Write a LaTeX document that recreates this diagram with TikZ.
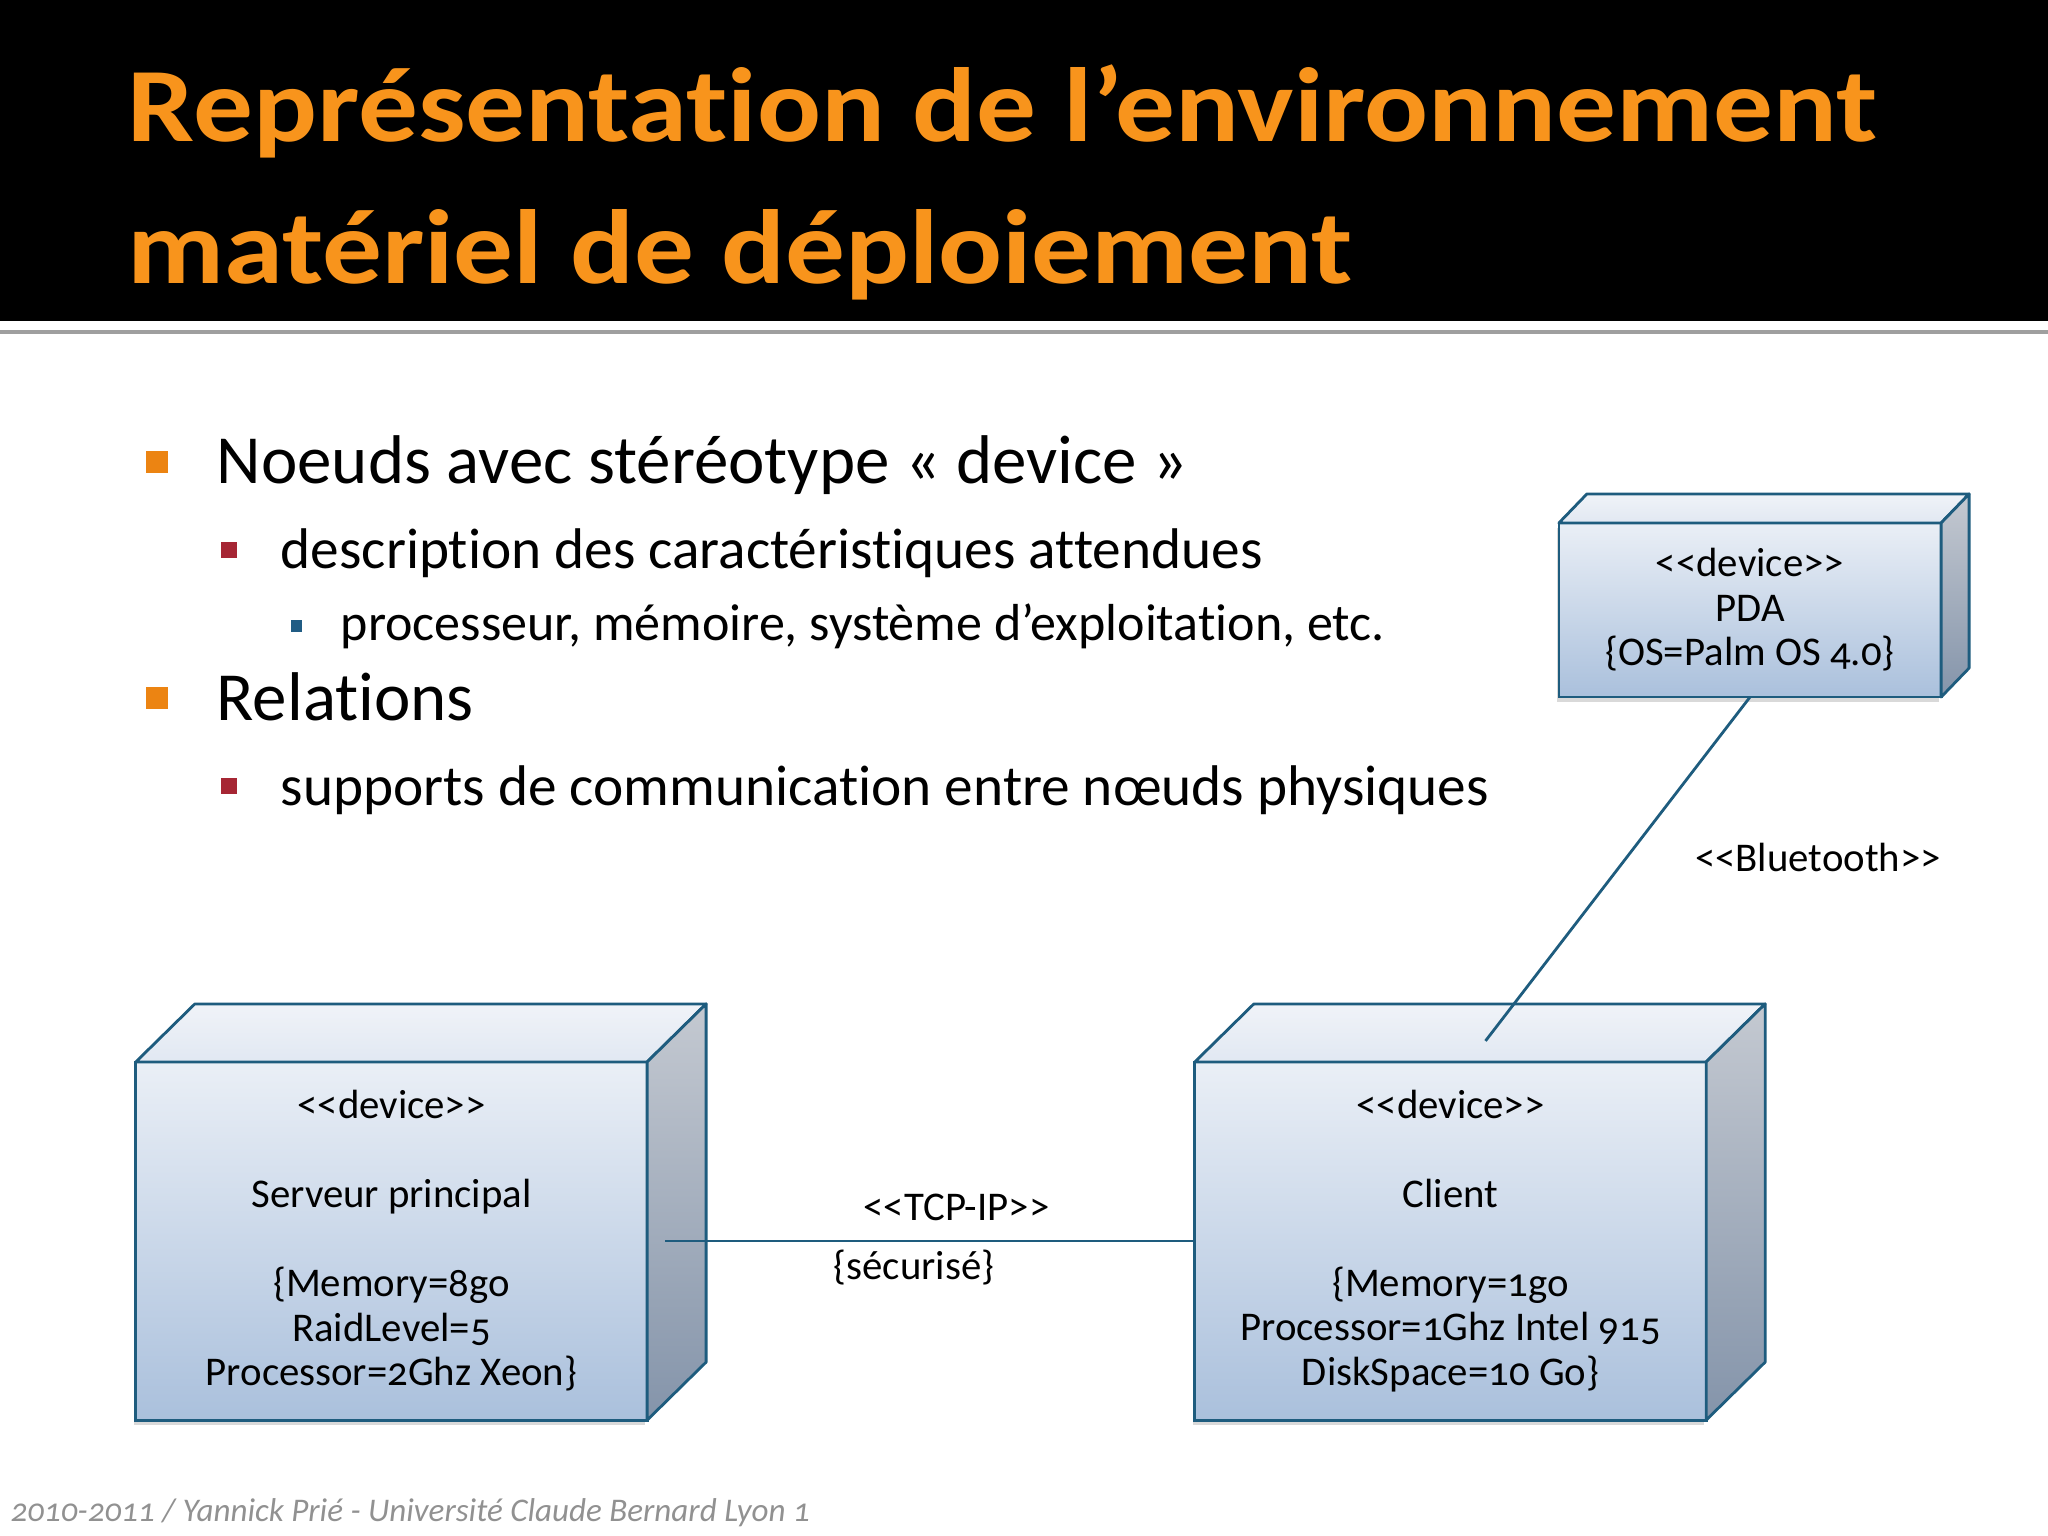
\documentclass[tikz,border=0pt]{standalone}
\usepackage{fontspec}
\setmainfont{Carlito}[Numbers=OldStyle, Ligatures={NoCommon,TeXOff}]
\newfontfamily\titlefont{Carlito}[Ligatures={NoCommon,TeXOff}, FakeStretch=1.13]
\usetikzlibrary{calc,shadows}

\definecolor{titleorange}{RGB}{248,148,28}
\definecolor{bulorange}{RGB}{236,132,18}
\definecolor{bulred}{RGB}{166,38,52}
\definecolor{bulblue}{RGB}{32,92,132}
\definecolor{umlline}{RGB}{30,92,126}
\definecolor{facetop}{RGB}{234,239,246}
\definecolor{facebot}{RGB}{170,192,220}
\definecolor{lidtop}{RGB}{225,232,242}
\definecolor{lidbot}{RGB}{240,243,248}
\definecolor{sidetop}{RGB}{196,201,209}
\definecolor{sidebot}{RGB}{132,148,170}
\definecolor{footgray}{RGB}{145,145,145}

\tikzset{
  slidetitle/.style={anchor=base west, inner sep=0, text=titleorange,
    font=\titlefont\fontsize{30}{36}\bfseries\selectfont},
  lvlone/.style={anchor=base west, inner sep=0, font=\fontsize{19.6}{24}\selectfont},
  lvltwo/.style={anchor=base west, inner sep=0, font=\fontsize{16.3}{20}\selectfont},
  lvlthree/.style={anchor=base west, inner sep=0, font=\fontsize{14.8}{18}\selectfont},
  sqone/.style={fill=bulorange, inner sep=0, minimum width=0.21cm, minimum height=0.22cm},
  sqtwo/.style={fill=bulred, inner sep=0, minimum width=0.15cm, minimum height=0.16cm},
  sqthree/.style={fill=bulblue, inner sep=0, minimum width=0.11cm, minimum height=0.12cm},
  device/.style={draw=umlline, line width=0.8pt, inner sep=0, outer sep=0,
    top color=facetop, bottom color=facebot, align=center,
    drop shadow={opacity=0.3, shadow xshift=-0.5pt, shadow yshift=-1.5pt},
    font=\fontsize{11.6}{12.66}\selectfont},
  lid/.style={draw=umlline, line width=0.8pt, line join=round, top color=lidbot, bottom color=lidtop},
  side/.style={draw=umlline, line width=0.8pt, line join=round, top color=sidetop, bottom color=sidebot},
  link/.style={draw=umlline, line width=0.8pt},
  lbl/.style={inner sep=0, font=\fontsize{11.6}{12.66}\selectfont},
  footer/.style={anchor=base west, inner sep=0, text=footgray,
    font=\fontsize{9.4}{11}\itshape\selectfont}
}

\begin{document}
\begin{tikzpicture}[x=0.01cm, y=-0.01cm]
  \useasboundingbox (0,0) rectangle (2048,1536);

  % title bar
  \fill[black] (0,0) rectangle (2048,321);
  \draw[gray!75, line width=1pt] (0,332) -- (2048,332);
  \node[slidetitle] (title1) at (127,141) {Représentation de l’environnement};
  \node[slidetitle] (title2) at (127,283) {matériel de déploiement};

  % bullets
  \node[sqone] (sq1) at (157,462) {};
  \node[lvlone] (noeuds) at (216,483) {Noeuds avec stéréotype « device »};
  \node[sqtwo] (sq2) at (229,550) {};
  \node[lvltwo] (desc) at (280,568) {description des caractéristiques attendues};
  \node[sqthree] (sq3) at (296,626) {};
  \node[lvlthree] (proc) at (340,640) {processeur, mémoire, système d’exploitation, etc.};
  \node[sqone] (sq4) at (157,698) {};
  \node[lvlone] (rel) at (216,720) {Relations};
  \node[sqtwo] (sq5) at (229,786) {};
  \node[lvltwo] (supp) at (280,805) {supports de communication entre nœuds physiques};

  % devices
  \node[device, minimum width=5.11cm, minimum height=3.58cm] (srv) at (391.5,1241)
    {<<device>>\\[12.66pt] Serveur principal\\[12.66pt] \{Memory=8go\\ RaidLevel=5\\ Processor=2Ghz Xeon\}};
  \node[device, minimum width=5.11cm, minimum height=3.58cm] (cli) at (1450.5,1241)
    {<<device>>\\[12.66pt] Client\\[12.66pt] \{Memory=1go\\ Processor=1Ghz Intel 915\\ DiskSpace=10 Go\}};
  \node[device, minimum width=3.82cm, minimum height=1.74cm] (pda) at (1750,610)
    {<<device>>\\ PDA\\ \{OS=Palm OS 4.0\}};

  \foreach \n/\dx/\dy in {srv/59/58, cli/59/58, pda/28/29}{
    \shade[lid] (\n.north west) -- ++(\dx,-\dy) -- ($(\n.north east)+(\dx,-\dy)$) -- (\n.north east) -- cycle;
    \shade[side] (\n.north east) -- ++(\dx,-\dy) -- ($(\n.south east)+(\dx,-\dy)$) -- (\n.south east) -- cycle;
  }

  % links
  \coordinate (srvport) at ($(srv.east)+(18,0)$);
  \coordinate (cliport) at ($(cli.north)+(35,-21)$);
  \draw[link] (srvport) -- (cli.west)
    node[lbl, pos=0.55, anchor=base, yshift=5.7pt] (tcp) {<<TCP-IP>>}
    node[lbl, pos=0.47, anchor=base, yshift=-11pt] (secu) {\{sécurisé\}};
  \draw[link] (pda.south) -- (cliport);
  \node[lbl, anchor=base] (bt) at (1818,871) {<<Bluetooth>>};

  % footer
  \node[footer] (foot) at (10,1521) {2010-2011 / Yannick Prié - Université Claude Bernard Lyon 1};
\end{tikzpicture}
\end{document}
